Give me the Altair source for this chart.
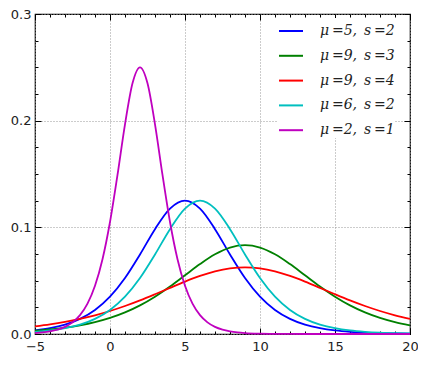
import altair as alt
import pandas as pd

xs = list(range(-5, 21))

labels = ["μ\u2009=5,\u2002s\u2009=2", "μ\u2009=9,\u2002s\u2009=3", "μ\u2009=9,\u2002s\u2009=4",
          "μ\u2009=6,\u2002s\u2009=2", "μ\u2009=2,\u2002s\u2009=1"]
colors = ["#0000ff", "#008000", "#ff0000", "#00bfbf", "#bf00bf"]

blue = [0.00332, 0.00543, 0.00883, 0.01423, 0.02259, 0.03505, 0.05250, 0.07457,
        0.09831, 0.11750, 0.12500, 0.11750, 0.09831, 0.07457, 0.05250, 0.03505,
        0.02259, 0.01423, 0.00883, 0.00543, 0.00332, 0.00203, 0.00123, 0.00075,
        0.00046, 0.00028]
green = [0.00308, 0.00426, 0.00589, 0.00810, 0.01109, 0.01506, 0.02025, 0.02686,
         0.03500, 0.04454, 0.05503, 0.06554, 0.07472, 0.08106, 0.08333, 0.08106,
         0.07472, 0.06554, 0.05503, 0.04454, 0.03500, 0.02686, 0.02025, 0.01506,
         0.01109, 0.00810]
red = [0.00711, 0.00898, 0.01129, 0.01412, 0.01753, 0.02157, 0.02625, 0.03153,
       0.03729, 0.04328, 0.04915, 0.05447, 0.05875, 0.06153, 0.06250, 0.06153,
       0.05875, 0.05447, 0.04915, 0.04328, 0.03729, 0.03153, 0.02625, 0.02157,
       0.01753, 0.01412]
cyan = [0.00203, 0.00332, 0.00543, 0.00883, 0.01423, 0.02259, 0.03505, 0.05250,
        0.07457, 0.09831, 0.11750, 0.12500, 0.11750, 0.09831, 0.07457, 0.05250,
        0.03505, 0.02259, 0.01423, 0.00883, 0.00543, 0.00332, 0.00203, 0.00123,
        0.00075, 0.00046]

mag_x = [-5, -4.5, -4, -3.5, -3, -2.5, -2, -1.5, -1, -0.5, 0, 0.5, 1, 1.5, 2,
         2.5, 3, 3.5, 4, 4.5, 5, 5.5, 6, 6.5, 7, 7.5, 8, 8.5, 9,
         10, 11, 12, 13, 14, 15, 16, 17, 18, 19, 20]
magenta = [0.00091, 0.00150, 0.00247, 0.00405, 0.00665, 0.01087, 0.01766, 0.02845,
           0.04518, 0.07010, 0.10499, 0.14915, 0.19661, 0.23501, 0.25000,
           0.23501, 0.19661, 0.14915, 0.10499, 0.07010, 0.04518, 0.02845, 0.01766,
           0.01087, 0.00665, 0.00405, 0.00247, 0.00150, 0.00091,
           0.00034, 0.00012, 0.00005, 0.00002, 0.00001, 0.0, 0.0, 0.0, 0.0, 0.0, 0.0]

x_major = [-5, 0, 5, 10, 15, 20]
x_minor = list(range(-5, 21))
y_major = [0.0, 0.1, 0.2, 0.3]
y_minor = [i * 0.025 for i in range(13)]

rows = []
for lab, ys in zip(labels[:4], [blue, green, red, cyan]):
    for xv, yv in zip(xs, ys):
        rows.append({"x": xv, "y": yv, "label": lab})
for xv, yv in zip(mag_x, magenta):
    rows.append({"x": xv, "y": yv, "label": labels[4]})
df = pd.DataFrame(rows)

W, H = 375, 320
xscale = alt.Scale(domain=[-5, 20], nice=False, zero=False)
yscale = alt.Scale(domain=[0, 0.3], nice=False, zero=False)

FONT = "DejaVu Sans"

main = alt.Chart(df).mark_line(strokeWidth=1.8, interpolate="monotone").encode(
    x=alt.X("x:Q", scale=xscale, axis=alt.Axis(
        orient="bottom", values=x_major, format="d", title=None, domain=False,
        ticks=False, tickSize=0, labelPadding=6, labelFont=FONT, labelFontSize=13,
        labelColor="#222", grid=True, gridColor="#999", gridDash=[1, 2],
        labelFlush=False)),
    y=alt.Y("y:Q", scale=yscale, axis=alt.Axis(
        orient="left", values=y_major, format=".1f", title=None, domain=False,
        ticks=False, tickSize=0, labelPadding=4, labelFont=FONT, labelFontSize=13,
        labelColor="#222", grid=True, gridColor="#999", gridDash=[1, 2],
        labelFlush=False)),
    color=alt.Color("label:N", scale=alt.Scale(domain=labels, range=colors),
                    legend=alt.Legend(
                        title=None, orient="none", legendX=243, legendY=4,
                        symbolType="stroke", symbolSize=576, symbolStrokeWidth=2,
                        labelFont="DejaVu Serif", labelFontStyle="italic",
                        labelFontSize=14, labelColor="#222", labelOffset=16,
                        rowPadding=4.8, padding=0, fillColor="white")),
    detail="label:N",
)


def tick_layer(xorient, xvals, xsize, yorient, yvals, ysize):
    return alt.Chart(df).mark_point(opacity=0).encode(
        x=alt.X("x:Q", scale=xscale, axis=alt.Axis(
            orient=xorient, offset=-H, values=xvals, tickSize=xsize, labels=False,
            domain=False, grid=False, title=None, tickColor="black", tickWidth=1)),
        y=alt.Y("y:Q", scale=yscale, axis=alt.Axis(
            orient=yorient, offset=-W, values=yvals, tickSize=ysize, labels=False,
            domain=False, grid=False, title=None, tickColor="black", tickWidth=1)),
    )


t1 = tick_layer("top", x_major, 6, "right", y_major, 6)
t2 = tick_layer("top", x_minor, 3, "right", y_minor, 3)
t3 = tick_layer("bottom", x_major, 6, "left", y_major, 6)
t4 = tick_layer("bottom", x_minor, 3, "left", y_minor, 3)

chart = alt.layer(main, t1, t2, t3, t4).resolve_axis(
    x="independent", y="independent"
).properties(
    width=W, height=H,
    autosize=alt.AutoSizeParams(type="none"),
    padding={"left": 27, "top": 6, "right": 8, "bottom": 18},
).configure_view(stroke="black", strokeWidth=1.2)

chart.save("out.html", embed_options={"renderer": "svg", "actions": False})
